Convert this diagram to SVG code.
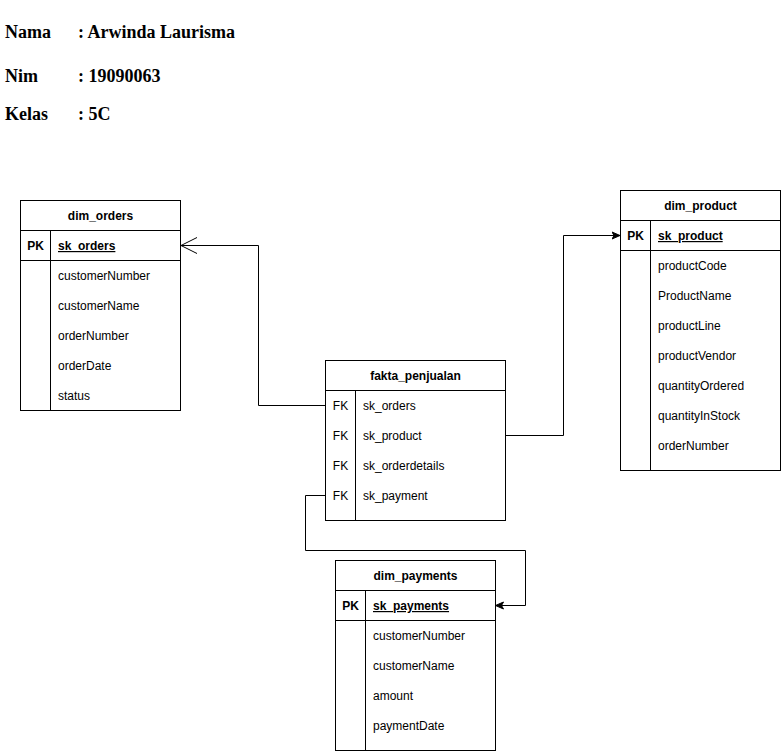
<svg xmlns="http://www.w3.org/2000/svg" width="781" height="751" viewBox="0 0 781 751">
<style>
.box{fill:#fff;stroke:#000;stroke-width:1}
.ln{stroke:#000;stroke-width:1;fill:none}
.t{font-family:"Liberation Sans",Arial,sans-serif;font-size:12px;fill:#000}
.h{font-family:"Liberation Sans",Arial,sans-serif;font-size:12px;font-weight:bold;fill:#000;text-anchor:middle}
.k{font-family:"Liberation Sans",Arial,sans-serif;font-size:12px;fill:#000;text-anchor:middle}
.b{font-weight:bold}
.pk{font-weight:bold;text-decoration:underline}
.hd{font-family:"Liberation Serif","Times New Roman",serif;font-size:18px;font-weight:bold;fill:#000}
</style>
<defs>
<marker id="open" markerWidth="20" markerHeight="20" refX="17" refY="9" orient="auto" markerUnits="userSpaceOnUse" viewBox="0 0 20 20">
<path d="M1,1 L17,9 L1,17" fill="none" stroke="#000" stroke-width="1"/>
</marker>
<marker id="fill" markerWidth="10" markerHeight="10" refX="8" refY="5" orient="auto" markerUnits="userSpaceOnUse" viewBox="0 0 10 10">
<path d="M0,1.5 L8,5 L0,8.5 L2,5 Z" fill="#000" stroke="#000" stroke-width="1"/>
</marker>
</defs>
<rect width="781" height="751" fill="#fff"/>
<g id="header">
<text class="hd" x="5" y="38">Nama</text><text class="hd" x="78" y="38">: Arwinda Laurisma</text>
<text class="hd" x="5" y="82">Nim</text><text class="hd" x="78" y="82">: 19090063</text>
<text class="hd" x="5" y="120">Kelas</text><text class="hd" x="78" y="120">: 5C</text>
</g>
<g id="dim_orders">
<rect class="box" x="20.5" y="200.5" width="160" height="210"/>
<path class="ln" d="M20.5,230.5 H180.5 M20.5,260.5 H180.5 M50.5,230.5 V410.5"/>
<text class="h" x="100.5" y="220">dim_orders</text>
<text class="k b" x="35.5" y="250">PK</text>
<text class="t pk" x="58" y="250">sk_orders</text>
<text class="t" x="58" y="280">customerNumber</text>
<text class="t" x="58" y="310">customerName</text>
<text class="t" x="58" y="340">orderNumber</text>
<text class="t" x="58" y="370">orderDate</text>
<text class="t" x="58" y="400">status</text>
</g>
<g id="fakta_penjualan">
<rect class="box" x="325.5" y="360.5" width="180" height="160"/>
<path class="ln" d="M325.5,390.5 H505.5 M355.5,390.5 V520.5"/>
<text class="h" x="415.5" y="380">fakta_penjualan</text>
<text class="k" x="340.5" y="410">FK</text><text class="t" x="363" y="410">sk_orders</text>
<text class="k" x="340.5" y="440">FK</text><text class="t" x="363" y="440">sk_product</text>
<text class="k" x="340.5" y="470">FK</text><text class="t" x="363" y="470">sk_orderdetails</text>
<text class="k" x="340.5" y="500">FK</text><text class="t" x="363" y="500">sk_payment</text>
</g>
<g id="dim_product">
<rect class="box" x="620.5" y="190.5" width="160" height="280"/>
<path class="ln" d="M620.5,220.5 H780.5 M620.5,250.5 H780.5 M650.5,220.5 V470.5"/>
<text class="h" x="700.5" y="210">dim_product</text>
<text class="k b" x="635.5" y="240">PK</text>
<text class="t pk" x="658" y="240">sk_product</text>
<text class="t" x="658" y="270">productCode</text>
<text class="t" x="658" y="300">ProductName</text>
<text class="t" x="658" y="330">productLine</text>
<text class="t" x="658" y="360">productVendor</text>
<text class="t" x="658" y="390">quantityOrdered</text>
<text class="t" x="658" y="420">quantityInStock</text>
<text class="t" x="658" y="450">orderNumber</text>
</g>
<g id="dim_payments">
<rect class="box" x="335.5" y="560.5" width="160" height="190"/>
<path class="ln" d="M335.5,590.5 H495.5 M335.5,620.5 H495.5 M365.5,590.5 V750.5"/>
<text class="h" x="415.5" y="580">dim_payments</text>
<text class="k b" x="350.5" y="610">PK</text>
<text class="t pk" x="373" y="610">sk_payments</text>
<text class="t" x="373" y="640">customerNumber</text>
<text class="t" x="373" y="670">customerName</text>
<text class="t" x="373" y="700">amount</text>
<text class="t" x="373" y="730">paymentDate</text>
</g>
<g id="connectors">
<path class="ln" d="M325.5,405.5 H258.5 V245.5 H181" marker-end="url(#open)"/>
<path class="ln" d="M505.5,435.5 H563.5 V235.5 H620" marker-end="url(#fill)"/>
<path class="ln" d="M325.5,495.5 H305.5 V550.5 H525.5 V605.5 H495.5" marker-end="url(#fill)"/>
</g>
</svg>
